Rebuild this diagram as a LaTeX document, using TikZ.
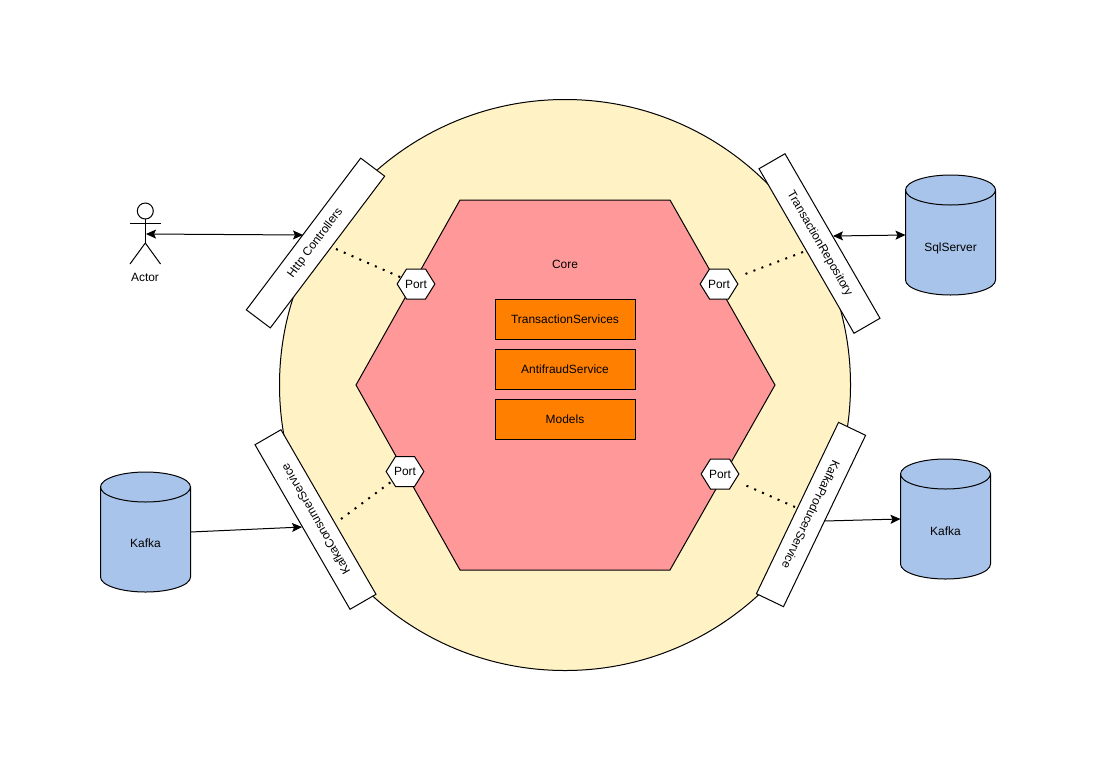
\documentclass[tikz,border=0pt]{standalone}
\usepackage{fontspec}
\setmainfont{Liberation Sans}
\usetikzlibrary{positioning,shapes.symbols,arrows.meta}
\definecolor{shellc}{HTML}{FFF2C4}
\definecolor{corec}{HTML}{FF9999}
\definecolor{boxc}{HTML}{FF8000}
\definecolor{dbc}{HTML}{A9C4EB}
\tikzset{
  every node/.style={font=\fontsize{6.8}{8}\selectfont, outer sep=0pt, inner sep=0pt},
  linew/.style={line width=0.02cm},
  adapter/.style={draw, linew, fill=white, minimum width=3.8cm, minimum height=0.6cm},
  service/.style={draw, linew, fill=boxc, minimum width=2.8cm, minimum height=0.8cm},
  port/.style={draw, linew, fill=white, signal, signal to=west and east, signal pointer angle=116, minimum height=0.6cm},
  store/.style={minimum width=1.8cm, minimum height=2.4cm},
  link/.style={linew, >={Stealth[length=0.2cm,width=0.18cm,inset=0.04cm]}},
  dots/.style={line width=0.04cm, dash pattern=on 0.04cm off 0.13cm}
}
\newcommand\portlabel{\makebox[0.38cm]{Port}}
\newcommand\dbdrum[1]{
  \draw[linew, fill=dbc] ([yshift=-0.3cm]#1.north west) arc[start angle=180, end angle=0, x radius=0.9, y radius=0.3]
        -- ([yshift=0.3cm]#1.south east) arc[start angle=0, end angle=-180, x radius=0.9, y radius=0.3] -- cycle;
  \draw[linew] ([yshift=-0.3cm]#1.north west) arc[start angle=180, end angle=360, x radius=0.9, y radius=0.3];
}
\begin{document}
\begin{tikzpicture}
      \useasboundingbox (0, 0) rectangle (21.92, -15.44);

      \coordinate (Center) at (11.3, -7.7);
      \coordinate (Neck) at (2.906, -4.38);
      \coordinate (Hip) at (2.906, -4.86);
      \coordinate (Arml) at (2.6, -4.46);
      \coordinate (Armr) at (3.21, -4.46);
      \coordinate (Legl) at (2.6, -5.28);
      \coordinate (Legr) at (3.21, -5.28);
      \coordinate (ActorR) at (2.92, -4.68);

      \coordinate (HttpL) at (6.06, -4.7);
      \coordinate (RepoR) at (16.66, -4.72);
      \coordinate (ConsL) at (6.04, -10.54);
      \coordinate (ProdR) at (16.48, -10.42);

      \coordinate (HttpD) at (6.72, -4.98);
      \coordinate (RepoD) at (16.06, -5.04);
      \coordinate (ConsD) at (6.82, -10.38);
      \coordinate (ProdD) at (15.9, -10.14);

      \draw[linew, fill=shellc] (Center) circle (5.71);
      \draw[linew, fill=corec] (7.12, -7.7) -- (9.2, -4) -- (13.4, -4) -- (15.5, -7.7)
            -- (13.4, -11.4) -- (9.2, -11.4) -- cycle;

      \node (core) at (11.3, -5.28) {Core};
      \node[service] (trans) at (11.3, -6.39) {TransactionServices};
      \node[service, below=0.2cm of trans] (fraud) {AntifraudService};
      \node[service, below=0.2cm of fraud] (models) {Models};

      \node[port] (porta) at (8.32, -5.68) {\portlabel};
      \node[port] (portb) at (14.38, -5.68) {\portlabel};
      \node[port] (portc) at (8.1, -9.43) {\portlabel};
      \node[port] (portd) at (14.4, -9.48) {\portlabel};

      \node[adapter, rotate=53] (http) at (6.31, -4.86) {Http Controllers};
      \node[adapter, rotate=-60] (repo) at (16.39, -4.87) {TransactionRepository};
      \node[adapter, rotate=120] (cons) at (6.31, -10.39) {KafkaConsumerService};
      \node[adapter, rotate=-115.6] (prod) at (16.22, -10.29) {KafkaProducerService};

      \node[store] (sql) at (19.01, -4.7) {};
      \node[store] (kafkal) at (2.91, -10.64) {};
      \node[store] (kafkar) at (18.91, -10.38) {};
      \dbdrum{sql}
      \dbdrum{kafkal}
      \dbdrum{kafkar}
      \node (sqlt) at (19.01, -4.96) {SqlServer};
      \node (kafkalt) at (2.91, -10.86) {Kafka};
      \node (kafkart) at (18.91, -10.63) {Kafka};

      \node[draw, linew, circle, minimum size=0.32cm] (head) at (2.906, -4.22) {};
      \node (actor) at (2.9, -5.54) {Actor};
      \draw[linew] (head) -- (Neck) -- (Hip);
      \draw[linew] (Arml) -- (Armr);
      \draw[linew] (Legl) -- (Hip) -- (Legr);

      \draw[link, <->] (ActorR) -- (HttpL);
      \draw[link, <->] (RepoR) -- (sql.west);
      \draw[link, ->] (kafkal.east) -- (ConsL);
      \draw[link, ->] (ProdR) -- (kafkar.west);

      \draw[dots] (HttpD) -- (porta);
      \draw[dots, shorten >=0.22cm] (RepoD) -- (portb);
      \draw[dots] (ConsD) -- (portc);
      \draw[dots, shorten >=0.22cm] (ProdD) -- (portd);
\end{tikzpicture}
\end{document}
